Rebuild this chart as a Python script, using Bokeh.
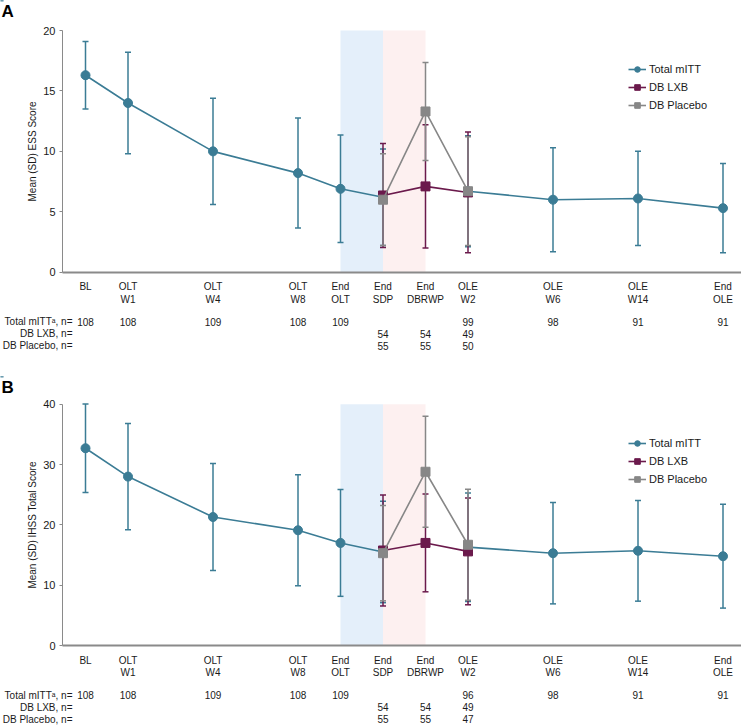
import math
from bokeh.plotting import figure
from bokeh.layouts import column
from bokeh.core.properties import value
from bokeh.models import (ColumnDataSource, Whisker, TeeHead, BoxAnnotation, FixedTicker,
                          Label, LabelSet, Legend, LegendItem, Range1d)
from bokeh.embed import file_html
from bokeh.resources import INLINE

NA = float("nan")

# ---------------- data ----------------
visit_pos = [0, 1, 3, 5, 6, 7, 8, 9, 11, 13, 15]
visit_labels = ["BL", "OLT\nW1", "OLT\nW4", "OLT\nW8", "End\nOLT", "End\nSDP",
                "End\nDBRWP", "OLE\nW2", "OLE\nW6", "OLE\nW14", "End\nOLE"]
db_pos = [7, 8, 9]
series_names = ["Total mITT", "DB LXB", "DB Placebo"]
row_labels = ["Total mITT\u1d43, n=", "DB LXB, n=", "DB Placebo, n="]

# Panel A - ESS
ess_total_mean = [16.3, 14.0, 10.0, 8.2, 6.9, 6.2, NA, 6.7, 6.0, 6.1, 5.3]
ess_total_sd = [2.8, 4.2, 4.4, 4.55, 4.45, 4.0, NA, 4.6, 4.3, 3.9, 3.7]
ess_lxb_mean = [6.35, 7.1, 6.6]
ess_lxb_sd = [4.3, 5.1, 5.0]
ess_pbo_mean = [6.0, 13.3, 6.7]
ess_pbo_sd = [3.8, 4.05, 4.5]
ess_n_total = ["108", "108", "109", "108", "109", "", "", "99", "98", "91", "91"]
ess_n_lxb = ["54", "54", "49"]
ess_n_pbo = ["55", "55", "50"]
ess_yticks = [0, 5, 10, 15, 20]

# Panel B - IHSS
ihss_total_mean = [32.7, 28.0, 21.3, 19.1, 17.0, 15.5, NA, 16.3, 15.3, 15.7, 14.8]
ihss_total_sd = [7.35, 8.8, 8.85, 9.2, 8.85, 8.4, NA, 9.0, 8.4, 8.35, 8.6]
ihss_lxb_mean = [15.75, 17.0, 15.6]
ihss_lxb_sd = [9.2, 8.1, 8.85]
ihss_pbo_mean = [15.3, 28.8, 16.7]
ihss_pbo_sd = [7.9, 9.2, 9.2]
ihss_n_total = ["108", "108", "109", "108", "109", "", "", "96", "98", "91", "91"]
ihss_n_lxb = ["54", "54", "49"]
ihss_n_pbo = ["55", "55", "47"]
ihss_yticks = [0, 10, 20, 30, 40]

# ---------------- style / layout ----------------
TEAL = "#3b7c95"
MAROON = "#6b1a4c"
GRAY = "#878787"
BAND_BLUE = "#e4effa"
BAND_PINK = "#fdf0f0"
AXIS_GRAY = "#8a8a8a"
FONT = "Liberation Sans"
TXT = "#1a1a1a"

WIDTH = 741
PX_PER_X = 42.5       # pixels per x unit
X0_PX = 85            # pixel of first visit
YAXIS_PX = 62         # pixel of the y axis line
X_START = -X0_PX / PX_PER_X
X_END = (WIDTH - X0_PX) / PX_PER_X
YAXIS_X = (YAXIS_PX - X0_PX) / PX_PER_X
ROW_OFFSETS = [49.5, 61.5, 73.5]   # px below the x axis for the n rows


def add_series(p, xs, means, sds, color, marker, size):
    upper = [m + s for m, s in zip(means, sds)]
    lower = [m - s for m, s in zip(means, sds)]
    src = ColumnDataSource(dict(x=xs, mean=means, upper=upper, lower=lower))
    w = Whisker(source=src, base="x", upper="upper", lower="lower",
                line_color=color, line_width=1.5,
                upper_head=TeeHead(size=6, line_color=color, line_width=1.5),
                lower_head=TeeHead(size=6, line_color=color, line_width=1.5))
    p.add_layout(w)
    lr = p.line("x", "mean", source=src, line_color=color, line_width=1.6)
    sr = p.scatter("x", "mean", source=src, marker=marker, size=size,
                   fill_color=color, line_color=color)
    return lr, sr


def make_panel(letter, ylabel, ymax, yticks, tm, tsd, lm, lsd, pm, psd,
               nt, nl, npb, height, top_px, axis_px):
    k = (axis_px - top_px) / ymax
    y_end = ymax + top_px / k
    y_start = -(height - axis_px) / k
    below = height - axis_px   # pixels between x axis and bottom of figure

    p = figure(width=WIDTH, height=height, output_backend="svg", toolbar_location=None,
               x_range=Range1d(X_START, X_END), y_range=Range1d(y_start, y_end),
               min_border=0, min_border_left=0, min_border_right=0,
               min_border_top=0, min_border_bottom=0)
    p.outline_line_color = None
    p.grid.visible = False

    p.add_layout(BoxAnnotation(left=visit_pos[4], right=visit_pos[5], bottom=0, top=ymax,
                               fill_color=BAND_BLUE, fill_alpha=1, line_color=None,
                               level="underlay"))
    p.add_layout(BoxAnnotation(left=visit_pos[5], right=visit_pos[6], bottom=0, top=ymax,
                               fill_color=BAND_PINK, fill_alpha=1, line_color=None,
                               level="underlay"))

    r_t = add_series(p, visit_pos, tm, tsd, TEAL, "circle", 9)
    r_l = add_series(p, db_pos, lm, lsd, MAROON, "square", 9)
    r_p = add_series(p, db_pos, pm, psd, GRAY, "square", 9)

    # axes (fixed inside the frame)
    xa = p.xaxis[0]
    xa.fixed_location = 0
    xa.bounds = (YAXIS_X, X_END)
    xa.ticker = FixedTicker(ticks=visit_pos)
    xa.major_label_overrides = {x: lab for x, lab in zip(visit_pos, visit_labels)}
    xa.major_tick_line_color = None
    xa.minor_tick_line_color = None
    xa.axis_line_color = AXIS_GRAY
    xa.axis_line_width = 2
    xa.major_label_standoff = 3
    xa.major_label_text_font = FONT
    xa.major_label_text_font_size = "10px"
    xa.major_label_text_color = TXT
    xa.major_label_text_line_height = 1.15

    ya = p.yaxis[0]
    ya.fixed_location = YAXIS_X
    ya.bounds = (0, ymax)
    ya.ticker = FixedTicker(ticks=yticks)
    ya.major_tick_out = 3
    ya.major_tick_in = 0
    ya.minor_tick_line_color = None
    ya.major_tick_line_color = AXIS_GRAY
    ya.axis_line_color = AXIS_GRAY
    ya.major_label_standoff = 4
    ya.major_label_text_font = FONT
    ya.major_label_text_font_size = "11px"
    ya.major_label_text_color = TXT
    ya.axis_label = ylabel
    ya.axis_label_text_font = FONT
    ya.axis_label_text_font_size = "10px"
    ya.axis_label_text_font_style = "normal"
    ya.axis_label_text_color = TXT
    ya.axis_label_standoff = 2

    legend = Legend(items=[LegendItem(label=series_names[0], renderers=list(r_t)),
                           LegendItem(label=series_names[1], renderers=list(r_l)),
                           LegendItem(label=series_names[2], renderers=list(r_p))],
                    location=(628, height - top_px - 32 - 50), padding=0, margin=0,
                    border_line_color=None, background_fill_alpha=0,
                    glyph_width=18, glyph_height=14, label_height=14, spacing=4,
                    label_standoff=3, label_text_font=FONT, label_text_font_size="11px",
                    label_text_color=TXT)
    p.add_layout(legend)

    # n table
    rows = [(visit_pos, nt), (db_pos, nl), (db_pos, npb)]
    for i, (xs, ns) in enumerate(rows):
        yoff = below - ROW_OFFSETS[i]
        keep = [(x, n) for x, n in zip(xs, ns) if n]
        src = ColumnDataSource(dict(x=[q[0] for q in keep], n=[q[1] for q in keep]))
        p.add_layout(LabelSet(x="x", y=yoff, y_units="screen", text="n", source=src,
                              text_align="center", text_baseline="middle",
                              text_font=value(FONT), text_font_size="10px",
                              text_color=TXT))
        p.add_layout(Label(x=72, y=yoff, x_units="screen", y_units="screen",
                           text=row_labels[i], text_align="right", text_baseline="middle",
                           text_font=FONT, text_font_size="10px", text_color=TXT))

    p.add_layout(Label(x=1, y=height - 1, x_units="screen", y_units="screen",
                       text=letter, text_align="left", text_baseline="top",
                       text_font=FONT, text_font_size="17px", text_font_style="bold",
                       text_color="#000000"))
    return p


pA = make_panel("A", "Mean (SD) ESS Score", 20, ess_yticks,
                ess_total_mean, ess_total_sd, ess_lxb_mean, ess_lxb_sd,
                ess_pbo_mean, ess_pbo_sd, ess_n_total, ess_n_lxb, ess_n_pbo,
                height=376, top_px=30, axis_px=271.7)
pB = make_panel("B", "Mean (SD) IHSS Total Score", 40, ihss_yticks,
                ihss_total_mean, ihss_total_sd, ihss_lxb_mean, ihss_lxb_sd,
                ihss_pbo_mean, ihss_pbo_sd, ihss_n_total, ihss_n_lxb, ihss_n_pbo,
                height=349, top_px=27.7, axis_px=269)

layout = column(pA, pB, spacing=0)
open("out.html", "w").write(file_html(layout, INLINE))
